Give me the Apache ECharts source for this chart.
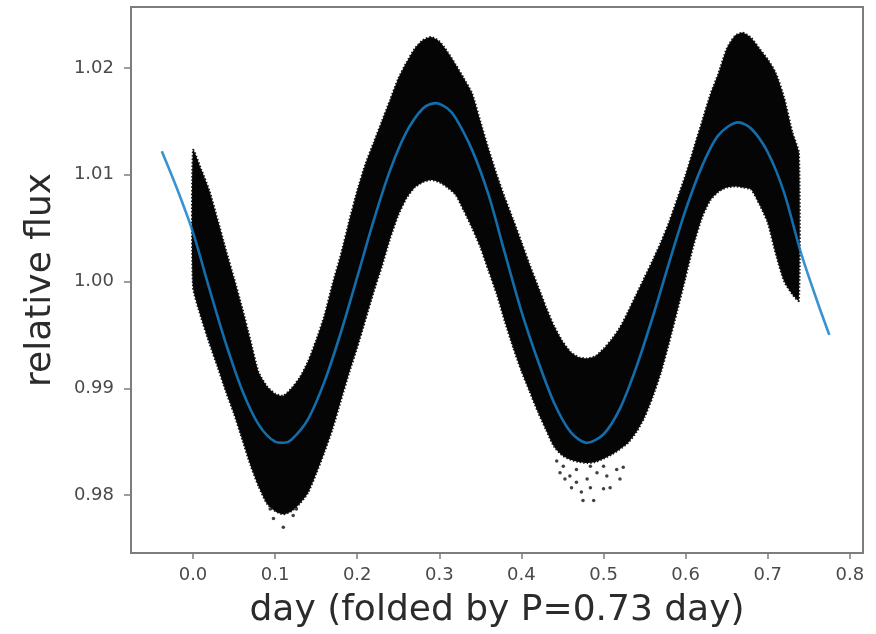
<!DOCTYPE html>
<html><head><meta charset="utf-8">
<script src="https://cdn.jsdelivr.net/npm/echarts@6/dist/echarts.min.js"></script>
<style>html,body{margin:0;padding:0;background:#fff}#c{width:876px;height:634px}</style>
</head><body><div id="c"></div>
<script>
// tick labels
const xTicks = [0.0, 0.1, 0.2, 0.3, 0.4, 0.5, 0.6, 0.7, 0.8];
const yTicks = [0.98, 0.99, 1.00, 1.01, 1.02];

// fitted model curve (blue)
const fitX = [-0.038, -0.02, 0.00, 0.02, 0.04, 0.06, 0.08, 0.10, 0.11, 0.12, 0.14, 0.16, 0.18, 0.20, 0.22, 0.24, 0.26, 0.28, 0.295, 0.31, 0.32, 0.34, 0.36, 0.38, 0.40, 0.42, 0.44, 0.46, 0.48, 0.50, 0.52, 0.54, 0.56, 0.58, 0.60, 0.62, 0.64, 0.664, 0.68, 0.70, 0.72, 0.74, 0.76, 0.775];
const fitY = [1.0122, 1.0088, 1.0046, 0.9993, 0.9942, 0.9898, 0.9866, 0.9850, 0.9849, 0.9852, 0.9871, 0.9906, 0.9952, 1.0004, 1.0057, 1.0104, 1.0140, 1.0162, 1.0167, 1.0162, 1.0153, 1.0123, 1.0081, 1.0026, 0.9972, 0.9926, 0.9886, 0.9859, 0.9849, 0.9857, 0.9881, 0.9920, 0.9967, 1.0018, 1.0067, 1.0108, 1.0137, 1.0149, 1.0143, 1.0121, 1.0083, 1.0028, 0.9982, 0.9950];

// folded photometry: dense point cloud envelope (lower / upper flux at each phase)
const cloudX = [0.00, 0.01, 0.02, 0.03, 0.04, 0.05, 0.06, 0.07, 0.08, 0.09, 0.10, 0.11, 0.12, 0.13, 0.14, 0.15, 0.16, 0.17, 0.18, 0.19, 0.20, 0.21, 0.22, 0.23, 0.24, 0.25, 0.26, 0.27, 0.28, 0.29, 0.30, 0.31, 0.32, 0.33, 0.34, 0.35, 0.36, 0.37, 0.38, 0.39, 0.40, 0.41, 0.42, 0.43, 0.44, 0.45, 0.46, 0.47, 0.48, 0.49, 0.50, 0.51, 0.52, 0.53, 0.54, 0.55, 0.56, 0.57, 0.58, 0.59, 0.60, 0.61, 0.62, 0.63, 0.64, 0.65, 0.66, 0.67, 0.68, 0.69, 0.70, 0.71, 0.72, 0.73, 0.738];
const cloudLow = [0.9995, 0.9966, 0.9942, 0.9920, 0.9897, 0.9876, 0.9852, 0.9828, 0.9808, 0.9792, 0.9785, 0.9782, 0.9785, 0.9792, 0.9802, 0.9820, 0.9840, 0.9862, 0.9888, 0.9914, 0.9938, 0.9964, 0.9990, 1.0014, 1.0040, 1.0062, 1.0078, 1.0088, 1.0093, 1.0095, 1.0093, 1.0088, 1.0081, 1.0066, 1.0050, 1.0032, 1.0010, 0.9988, 0.9962, 0.9938, 0.9916, 0.9897, 0.9878, 0.9861, 0.9845, 0.9837, 0.9833, 0.9831, 0.9830, 0.9831, 0.9834, 0.9838, 0.9843, 0.9849, 0.9859, 0.9873, 0.9892, 0.9915, 0.9943, 0.9973, 1.0004, 1.0035, 1.0060, 1.0076, 1.0084, 1.0088, 1.0089, 1.0088, 1.0086, 1.0072, 1.0055, 1.0025, 1.0000, 0.9988, 0.9982];
const cloudHigh = [1.0123, 1.0105, 1.0085, 1.0058, 1.0030, 1.0003, 0.9975, 0.9945, 0.9915, 0.9902, 0.9895, 0.9893, 0.9900, 0.9910, 0.9925, 0.9945, 0.9968, 0.9998, 1.0025, 1.0056, 1.0085, 1.0110, 1.0130, 1.0150, 1.0170, 1.0190, 1.0205, 1.0218, 1.0226, 1.0229, 1.0225, 1.0215, 1.0203, 1.0190, 1.0176, 1.0150, 1.0124, 1.0100, 1.0078, 1.0058, 1.0037, 1.0016, 0.9996, 0.9976, 0.9958, 0.9944, 0.9934, 0.9929, 0.9928, 0.9930, 0.9937, 0.9946, 0.9957, 0.9972, 0.9988, 1.0004, 1.0020, 1.0037, 1.0056, 1.0078, 1.0100, 1.0125, 1.0150, 1.0175, 1.0195, 1.0218, 1.0230, 1.0233, 1.0228, 1.0218, 1.0208, 1.0195, 1.0172, 1.0140, 1.0120];

// sparse individual points below the cloud
const sparseX = [0.443, 0.451, 0.447, 0.459, 0.453, 0.461, 0.467, 0.473, 0.480, 0.484, 0.488, 0.475, 0.500, 0.508, 0.504, 0.516, 0.524, 0.520, 0.492, 0.467, 0.484, 0.500, 0.110, 0.098, 0.122, 0.094, 0.126];
const sparseY = [0.9832, 0.9827, 0.9821, 0.9818, 0.9815, 0.9807, 0.9812, 0.9803, 0.9815, 0.9807, 0.9795, 0.9795, 0.9806, 0.9807, 0.9818, 0.9824, 0.9826, 0.9815, 0.9821, 0.9824, 0.9827, 0.9827, 0.9770, 0.9778, 0.9781, 0.9787, 0.9787];

const FONT = 'DejaVu Sans';
const chart = echarts.init(document.getElementById('c'), null, {renderer: 'canvas'});

const cloudData = cloudX.map((x, i) => [x, cloudLow[i], cloudHigh[i]]);

chart.setOption({
  animation: false,
  backgroundColor: '#ffffff',
  grid: {left: 131, right: 13, top: 7, bottom: 80, show: true, borderColor: '#7d7d7d', borderWidth: 2, backgroundColor: 'transparent'},
  xAxis: {
    type: 'value', min: -0.0755, max: 0.816,
    name: 'day (folded by P=0.73 day)', nameLocation: 'middle', nameGap: 40,
    nameTextStyle: {fontFamily: FONT, fontSize: 36, color: '#2b2b2b'},
    axisLine: {show: false, onZero: false},
    splitLine: {show: false},
    axisTick: {show: true, inside: false, length: 6, lineStyle: {color: '#7d7d7d', width: 1.5}, customValues: xTicks},
    axisLabel: {customValues: xTicks, fontFamily: FONT, fontSize: 18, color: '#4a4a4a', margin: 13, formatter: v => v.toFixed(1)}
  },
  yAxis: {
    type: 'value', min: 0.97458, max: 1.0257,
    name: 'relative flux', nameLocation: 'middle', nameGap: 72,
    nameTextStyle: {fontFamily: FONT, fontSize: 36, color: '#2b2b2b'},
    axisLine: {show: false, onZero: false},
    splitLine: {show: false},
    axisTick: {show: true, inside: false, length: 7, lineStyle: {color: '#7d7d7d', width: 1.5}, customValues: yTicks},
    axisLabel: {customValues: yTicks, fontFamily: FONT, fontSize: 18, color: '#4a4a4a', margin: 17, formatter: v => v.toFixed(2)}
  },
  series: [
    {
      type: 'custom', name: 'data', z: 2,
      data: cloudData,
      encode: {x: 0, y: [1, 2]},
      renderItem: function (params, api) {
        if (params.dataIndex !== 0) return null;
        const top = cloudData.map(d => api.coord([d[0], d[2]]));
        const bot = cloudData.map(d => api.coord([d[0], d[1]])).reverse();
        return {
          type: 'polygon',
          shape: {points: top.concat(bot), smooth: 0.2},
          style: {fill: '#050505', stroke: '#151515', lineWidth: 2, lineDash: [1.5, 2]}
        };
      }
    },
    {
      type: 'scatter', name: 'sparse', z: 3,
      data: sparseX.map((x, i) => [x, sparseY[i]]),
      symbolSize: 3.5, itemStyle: {color: '#111'}
    },
    {
      type: 'line', name: 'fit', z: 4,
      data: fitX.map((x, i) => [x, fitY[i]]),
      smooth: 0.3, showSymbol: false,
      lineStyle: {color: '#1580c8', width: 2.6, opacity: 0.85}
    }
  ]
});
</script>
</body></html>
